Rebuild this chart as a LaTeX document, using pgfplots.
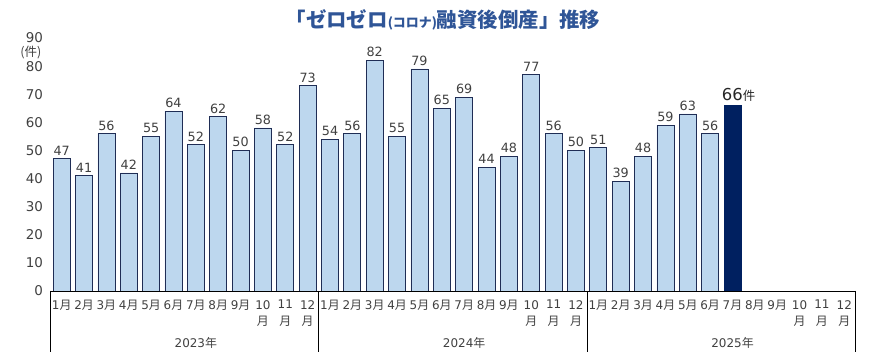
\documentclass[border=0pt]{standalone}
\usepackage{pgfplots}
\pgfplotsset{compat=1.18}
\usetikzlibrary{calc}
\usepackage{fontspec}
\setmainfont{Noto Sans CJK JP}
\newfontfamily\dv{DejaVu Sans}
\newcommand\m[1]{{\dv #1}月}
\newcommand\mm[1]{{\dv #1}\\月}
\definecolor{barfill}{HTML}{BDD7EE}
\definecolor{barline}{HTML}{1F2D55}
\definecolor{darkbar}{HTML}{002060}
\definecolor{titleblue}{HTML}{2F5597}
\definecolor{txtgray}{HTML}{404040}
\begin{document}
\begin{tikzpicture}
\begin{axis}[
  at={(50.5bp,73bp)}, anchor=south west,
  scale only axis, width=805bp, height=253bp,
  xmin=-0.5, xmax=35.5, ymin=0, ymax=90,
  ybar, bar width=0.76,
  axis line style={draw=none},
  major tick length=0pt,
  ytick={0,10,...,90},
  xtick={0,...,35},
  xticklabels={\m1,\m2,\m3,\m4,\m5,\m6,\m7,\m8,\m9,\mm{10},\mm{11},\mm{12},
               \m1,\m2,\m3,\m4,\m5,\m6,\m7,\m8,\m9,\mm{10},\mm{11},\mm{12},
               \m1,\m2,\m3,\m4,\m5,\m6,\m7,\m8,\m9,\mm{10},\mm{11},\mm{12}},
  /pgf/number format/assume math mode=true,
  yticklabel style={font=\dv\fontsize{13.5}{14}\selectfont, text=txtgray, xshift=-4bp},
  xticklabel style={font=\fontsize{12}{16.5}\selectfont, text=txtgray, align=center, anchor=north, yshift=-8bp, inner sep=1pt},
  nodes near coords,
  every node near coord/.append style={font=\dv\fontsize{12.8}{13}\selectfont, text=txtgray, inner sep=3pt},
  clip=false,
]
\addplot[bar shift=0pt, fill=barfill, draw=barline, line width=0.8pt] coordinates {
(0,47)(1,41)(2,56)(3,42)(4,55)(5,64)(6,52)(7,62)(8,50)(9,58)(10,52)(11,73)
(12,54)(13,56)(14,82)(15,55)(16,79)(17,65)(18,69)(19,44)(20,48)(21,77)(22,56)(23,50)
(24,51)(25,39)(26,48)(27,59)(28,63)(29,56)};
\addplot[bar shift=0pt, fill=darkbar, draw=darkbar, line width=0.8pt,
  nodes near coords={{\dv\fontsize{16.5}{17}\selectfont\pgfmathprintnumber{\pgfplotspointmeta}}{\rmfamily\fontsize{12.5}{13}\selectfont 件}},
  every node near coord/.append style={font=\rmfamily, text=black!85, xshift=6bp, inner sep=3.5pt}] coordinates {(30,66)};
\coordinate (s0) at (axis cs:-0.5,0);
\coordinate (s1) at (axis cs:11.5,0);
\coordinate (s2) at (axis cs:23.5,0);
\coordinate (s3) at (axis cs:35.5,0);
\node[font=\fontsize{12}{13}\selectfont, text=txtgray] at ($(axis cs:5.5,0)+(0,-52bp)$) {{\dv 2023}年};
\node[font=\fontsize{12}{13}\selectfont, text=txtgray] at ($(axis cs:17.5,0)+(0,-52bp)$) {{\dv 2024}年};
\node[font=\fontsize{12}{13}\selectfont, text=txtgray] at ($(axis cs:29.5,0)+(0,-52bp)$) {{\dv 2025}年};
\node[font=\fontsize{12.5}{13}\selectfont, text=txtgray, anchor=east, inner sep=0pt] at ($(axis cs:-0.5,90)+(-9bp,-14.5bp)$) {(件)};
\end{axis}
\draw[black, line width=0.8pt] (s0) -- (s3);
\draw[black, line width=0.8pt] (s0) -- ++(0,-61bp);
\draw[black, line width=0.8pt] (s1) -- ++(0,-61bp);
\draw[black, line width=0.8pt] (s2) -- ++(0,-61bp);
\draw[black, line width=0.8pt] (s3) -- ++(0,-61bp);
\node[font=\bfseries\fontsize{20.5}{21}\selectfont, text=titleblue] at (443bp,344bp) {「ゼロゼロ{\fontsize{13}{14}\selectfont (コロナ)}融資後倒産」推移};
\pgfresetboundingbox
\path[use as bounding box] (0,0) rectangle (874bp,364bp);
\end{tikzpicture}
\end{document}
